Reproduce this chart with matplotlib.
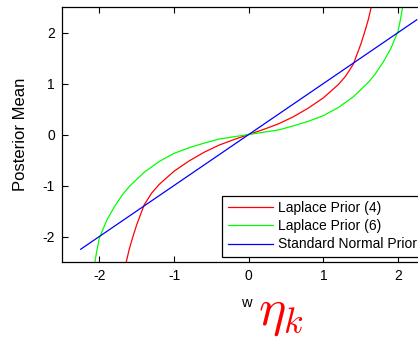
import matplotlib
matplotlib.use("Agg")
import matplotlib.pyplot as plt

plt.rcParams['font.family'] = ['Liberation Sans', 'DejaVu Sans']
plt.rcParams['mathtext.fontset'] = 'cm'
plt.rcParams['axes.unicode_minus'] = False

# Data
red_x = [-1.70, -1.64, -1.60, -1.55, -1.50, -1.40, -1.30, -1.20, -1.00, -0.80, -0.60, -0.40, -0.20, 0.00,
         0.20, 0.40, 0.60, 0.80, 1.00, 1.20, 1.30, 1.40, 1.50, 1.55, 1.60, 1.64, 1.70]
red_y = [-3.00, -2.50, -2.25, -2.00, -1.77, -1.38, -1.15, -0.98, -0.72, -0.52, -0.35, -0.21, -0.10, 0.00,
         0.10, 0.21, 0.35, 0.52, 0.72, 0.98, 1.15, 1.38, 1.77, 2.00, 2.25, 2.50, 3.00]

green_x = [-2.12, -2.06, -2.03, -2.00, -1.90, -1.80, -1.70, -1.60, -1.40, -1.20, -1.00, -0.80, -0.60, -0.40, -0.20, 0.00,
           0.20, 0.40, 0.60, 0.80, 1.00, 1.20, 1.40, 1.60, 1.70, 1.80, 1.90, 2.00, 2.03, 2.06, 2.12]
green_y = [-3.00, -2.50, -2.25, -2.03, -1.68, -1.42, -1.20, -1.02, -0.74, -0.53, -0.37, -0.26, -0.17, -0.09, -0.045, 0.00,
           0.045, 0.09, 0.17, 0.26, 0.37, 0.53, 0.74, 1.02, 1.20, 1.42, 1.68, 2.03, 2.25, 2.50, 3.00]

blue_x = [-2.25, 2.25]
blue_y = [-2.25, 2.25]

labels = ["Laplace Prior (4)", "Laplace Prior (6)", "Standard Normal Prior"]
xticks = [-2, -1, 0, 1, 2]
yticks = [-2, -1, 0, 1, 2]

W, H = 418, 339
fig = plt.figure(figsize=(W / 100, H / 100), dpi=100)
ax = fig.add_axes([62 / W, 1 - 262 / H, (435.5 - 62) / W, (262 - 7) / H])

ax.plot(red_x, red_y, color=(1, 0, 0), lw=0.9, label=labels[0])
ax.plot(green_x, green_y, color=(0, 1, 0), lw=0.9, label=labels[1])
ax.plot(blue_x, blue_y, color=(0, 0, 1), lw=0.9, label=labels[2])

ax.set_xlim(-2.5, 2.5)
ax.set_ylim(-2.5, 2.5)
ax.set_xticks(xticks)
ax.set_yticks(yticks)
ax.tick_params(direction='in', length=4, width=0.8, top=True, right=False, labelsize=10, pad=5)
for s in ax.spines.values():
    s.set_linewidth(0.9)
ax.spines['right'].set_visible(False)

ax.set_xlabel("w", fontsize=10.5)
ax.set_ylabel("Posterior Mean", fontsize=12)
ax.xaxis.set_label_coords((246 - 62) / 373.5, (262 - 296) / 255)
ax.yaxis.set_label_coords((28 - 62) / 373.5, (262 - 134) / 255)

leg = ax.legend(loc='lower left', bbox_to_anchor=((222 - 62) / 373.5, (262 - 257) / 255),
                fontsize=10, fancybox=False, edgecolor='black', framealpha=1,
                handlelength=3.3, borderaxespad=0, labelspacing=0.3, borderpad=0.4,
                handletextpad=0.35)
leg.get_frame().set_linewidth(0.9)

fig.text(281 / W, 1 - 313 / H, r'$\eta_k$', color='red', fontsize=37, ha='center', va='center')

fig.savefig("out.png", dpi=100)
